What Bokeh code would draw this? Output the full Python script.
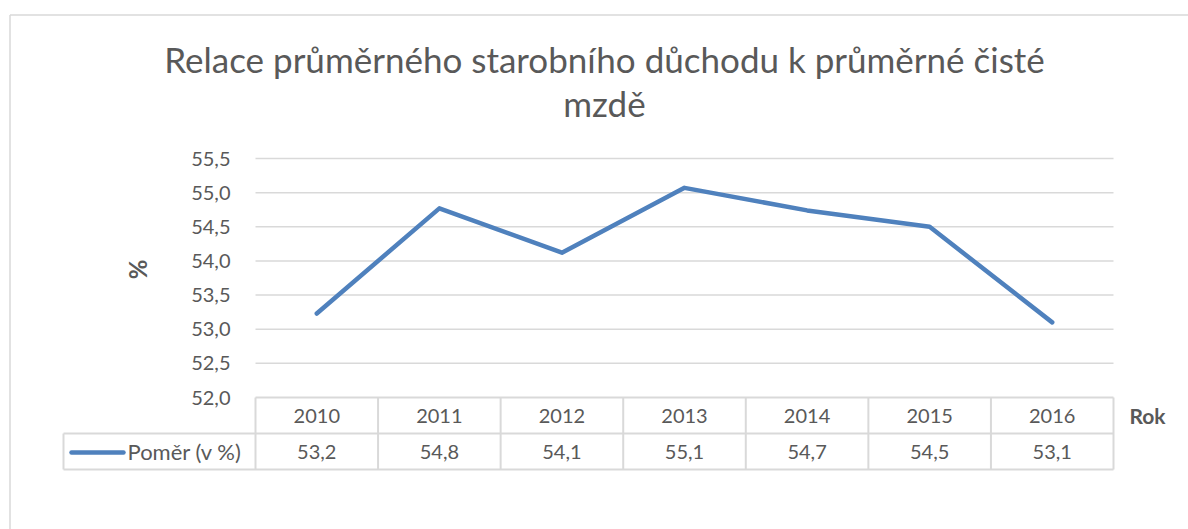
import math
from bokeh.plotting import figure
from bokeh.models import Range1d
from bokeh.core.properties import value
from bokeh.embed import file_html
from bokeh.resources import INLINE

# ---- data ----
years = ["2010", "2011", "2012", "2013", "2014", "2015", "2016"]
ratio = [53.23, 54.77, 54.12, 55.07, 54.74, 54.50, 53.10]
y_ticks = [52.0, 52.5, 53.0, 53.5, 54.0, 54.5, 55.0, 55.5]
series_name = "Poměr (v %)"
title_lines = ["Relace průměrného starobního důchodu k průměrné čisté", "mzdě"]
y_label = "%"
x_label = "Rok"

# ---- layout helpers (page pixels -> data units) ----
W, H = 1188, 529
OFF = 0
PX0, PX1 = 255.0, 1113.0          # plot area left/right on page
PY_LO, PY_HI = 397.0, 158.0       # page y of y_ticks[0] / y_ticks[-1]
U = (PX1 - PX0) / len(years)
V = (PY_LO - PY_HI) / (y_ticks[-1] - y_ticks[0])
YMIN = y_ticks[0]

def dx(px):
    return (px - PX0) / U

def dy(py):
    return YMIN + (PY_LO - py) / V

FONT = "Lato"
GREY = "#595959"
LINEC = "#d9d9d9"
BLUE = "#4f81bd"

p = figure(width=W, height=H,
           x_range=Range1d(dx(OFF), dx(OFF + W)),
           y_range=Range1d(dy(OFF + H), dy(OFF)),
           x_axis_type=None, y_axis_type=None,
           min_border=0, toolbar_location=None, output_backend="svg")
p.grid.visible = False
p.outline_line_color = None
p.background_fill_color = "white"
p.border_fill_color = "white"

# outer chart border (top & left visible)
p.line([dx(9.5), dx(9.5)], [dy(14.5), dy(OFF + H + 5)], line_color=LINEC, line_width=1.5)
p.line([dx(9.5), dx(OFF + W + 5)], [dy(14.5), dy(14.5)], line_color=LINEC, line_width=1.5)

# title
title_center = dx(604)
p.text(x=[title_center] * 2, y=[dy(58), dy(102)], text=title_lines,
       text_align="center", text_baseline="middle",
       text_font=value(FONT), text_font_size="35px", text_color=GREY)

# gridlines
n = len(years)
grid_vals = y_ticks[1:]
p.segment(x0=[0] * len(grid_vals), x1=[n] * len(grid_vals), y0=grid_vals, y1=grid_vals,
          line_color=LINEC, line_width=1.5)

# y tick labels
p.text(x=[dx(230)] * len(y_ticks), y=y_ticks,
       text=[f"{t:.1f}".replace(".", ",") for t in y_ticks],
       text_align="right", text_baseline="middle",
       text_font=value(FONT), text_font_size="20px", text_color=GREY)

# y axis label
p.text(x=[dx(137)], y=[dy(269)], text=[y_label], angle=math.pi / 2,
       text_align="center", text_baseline="middle",
       text_font=value(FONT), text_font_size="24px", text_font_style="bold", text_color=GREY)

# data line
xc = [i + 0.5 for i in range(n)]
p.line(xc, ratio, line_color=BLUE, line_width=4.5, line_cap="round", line_join="round")

# data table
row1_top, row1_bot, row2_bot = dy(397), dy(433), dy(469)
leg_left = dx(63)
p.segment(x0=[0, leg_left, leg_left], x1=[n, n, n],
          y0=[row1_top, row1_bot, row2_bot], y1=[row1_top, row1_bot, row2_bot],
          line_color=LINEC, line_width=2)
p.segment(x0=list(range(n + 1)), x1=list(range(n + 1)),
          y0=[row1_top] * (n + 1), y1=[row2_bot] * (n + 1),
          line_color=LINEC, line_width=2)
p.segment(x0=[leg_left], x1=[leg_left], y0=[row1_bot], y1=[row2_bot],
          line_color=LINEC, line_width=2)

p.text(x=xc, y=[dy(415)] * n, text=years, text_align="center", text_baseline="middle",
       text_font=value(FONT), text_font_size="20px", text_color=GREY)
p.text(x=xc, y=[dy(451)] * n, text=[f"{v:.1f}".replace(".", ",") for v in ratio],
       text_align="center", text_baseline="middle",
       text_font=value(FONT), text_font_size="20px", text_color=GREY)

# legend key in table
p.line([dx(71), dx(123)], [dy(452), dy(452)], line_color=BLUE, line_width=4.5, line_cap="round")
p.text(x=[dx(127)], y=[dy(451)], text=[series_name], text_align="left", text_baseline="middle",
       text_font=value(FONT), text_font_size="22px", text_color=GREY)

# x axis label
p.text(x=[dx(1129)], y=[dy(415)], text=[x_label], text_align="left", text_baseline="middle",
       text_font=value(FONT), text_font_size="21px", text_font_style="bold", text_color=GREY)

open("out.html", "w").write(file_html(p, INLINE))
